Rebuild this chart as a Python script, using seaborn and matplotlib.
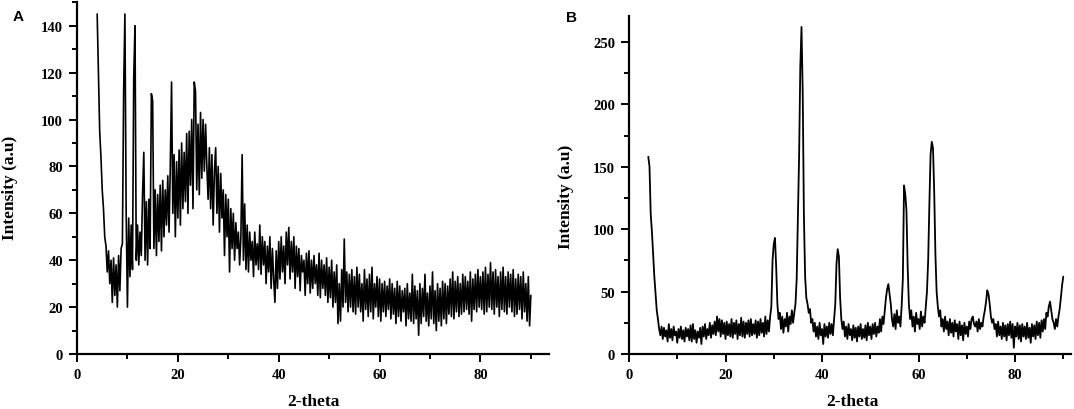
import numpy as np
import matplotlib
matplotlib.use("Agg")
import matplotlib.pyplot as plt
from matplotlib.ticker import MultipleLocator
import seaborn as sns

# ---------------- data (0.25 deg steps) ----------------
theta_start = 4.0
theta_step = 0.25

intensity_a = [
    145, 119, 95, 84,   70, 62, 50, 46,   35, 44, 30, 40,   22, 41, 25, 38,   # 4-7
    20, 42, 27, 45,     47, 112, 145, 60, 20, 58, 33, 55,   36, 118, 140, 40,  # 8-11
    55, 38, 52, 42,     68, 86, 40, 65,   38, 66, 45, 111,  108, 45, 70, 42,   # 12-15
    68, 48, 72, 44,     74, 50, 70, 55,   76, 52, 80, 116,  60, 85, 50, 82,    # 16-19
    58, 87, 55, 90,     62, 86, 65, 94,   60, 95, 72, 100,  62, 116, 112, 70,  # 20-23
    98, 68, 103, 75,    100, 78, 98, 80,  66, 88, 62, 85,   55, 78, 88, 60,    # 24-27
    80, 52, 77, 58,     70, 42, 68, 50,   66, 35, 62, 45,   60, 40, 56, 45,    # 28-31
    52, 38, 50, 85,     40, 64, 36, 55,   35, 52, 40, 48,   33, 52, 38, 47,    # 32-35
    36, 55, 34, 50,     38, 48, 30, 46,   35, 50, 28, 45,   32, 22, 44, 28,    # 36-39
    48, 32, 50, 35,     46, 30, 52, 38,   54, 32, 48, 35,   50, 28, 46, 33,    # 40-43
    45, 27, 42, 35,     40, 25, 43, 30,   44, 26, 40, 28,   42, 30, 38, 25,    # 44-47
    43, 24, 40, 28,     38, 25, 41, 22,   37, 24, 40, 20,   35, 22, 38, 13,    # 48-51
    30, 14, 36, 20,     49, 22, 35, 18,   34, 20, 36, 18,   33, 17, 37, 20,    # 52-55
    34, 18, 30, 14,     36, 19, 32, 16,   34, 18, 37, 15,   30, 20, 33, 16,    # 56-59
    32, 14, 30, 18,     31, 16, 29, 19,   32, 15, 30, 17,   28, 13, 31, 16,    # 60-63
    29, 14, 27, 18,     28, 12, 30, 15,   26, 14, 34, 13,   29, 15, 27, 8,     # 64-67
    30, 13, 28, 16,     34, 14, 26, 12,   29, 15, 35, 13,   27, 10, 30, 14,    # 68-71
    28, 12, 31, 15,     30, 13, 29, 17,   32, 16, 35, 15,   31, 18, 33, 16,    # 72-75
    30, 17, 34, 18,     33, 19, 31, 17,   35, 14, 32, 19,   34, 18, 36, 20,    # 76-79
    33, 19, 35, 17,     37, 18, 34, 20,   39, 19, 35, 17,   36, 20, 33, 16,    # 80-83
    35, 19, 37, 18,     33, 17, 35, 20,   34, 18, 36, 16,   32, 17, 34, 19,    # 84-87
    33, 15, 35, 18,     30, 14, 33, 12,   25,                                   # 88-90
]

intensity_b = [
    158, 150, 112, 98,  80, 62, 48, 35,   28, 20, 15, 22,   12, 21, 14, 19,    # 4-7
    10, 24, 13, 20,     11, 22, 15, 18,   9, 20, 13, 22,    12, 19, 10, 21,    # 8-11
    14, 20, 11, 23,     10, 24, 12, 19,   9, 18, 13, 21,    8, 22, 14, 24,     # 12-15
    12, 20, 15, 25,     13, 23, 16, 26,   15, 30, 18, 28,   14, 27, 16, 25,    # 16-19
    12, 26, 15, 24,     14, 28, 13, 25,   16, 27, 12, 24,   15, 29, 14, 26,    # 20-23
    13, 25, 16, 27,     14, 28, 15, 24,   16, 27, 13, 26,   15, 28, 17, 25,    # 24-27
    14, 30, 16, 27,     18, 30, 38, 75,   88, 93, 70, 40,   28, 33, 20, 30,    # 28-31
    17, 28, 22, 33,     18, 30, 24, 35,   25, 33, 40, 60,   110, 158, 230, 262,  # 32-35
    210, 110, 62, 45,   40, 33, 36, 25,   28, 18, 25, 14,   22, 12, 25, 15,    # 36-39
    20, 8, 24, 14,      22, 13, 25, 16,   24, 15, 28, 40,   72, 84, 78, 45,    # 40-43
    28, 20, 26, 14,     22, 12, 24, 15,   20, 11, 23, 13,   21, 10, 22, 14,    # 44-47
    24, 12, 20, 13,     23, 11, 25, 15,   22, 12, 24, 16,   25, 14, 22, 17,    # 48-51
    28, 18, 30, 24,     35, 45, 52, 56,   48, 40, 28, 22,   32, 20, 35, 25,    # 52-55
    30, 22, 38, 60,     135, 128, 115, 70, 40, 28, 35, 22,  30, 18, 33, 24,    # 56-59
    28, 20, 34, 22,     30, 25, 38, 50,   75, 120, 160, 170, 165, 130, 80, 50,  # 60-63
    38, 30, 35, 22,     28, 18, 30, 20,   26, 15, 28, 17,   25, 14, 27, 18,    # 64-67
    24, 12, 26, 15,     23, 11, 25, 16,   22, 14, 26, 20,   28, 30, 24, 22,    # 68-71
    26, 18, 28, 20,     25, 22, 30, 35,   42, 51, 48, 40,   30, 25, 28, 20,    # 72-75
    24, 14, 26, 15,     22, 12, 25, 14,   23, 11, 24, 15,   26, 13, 24, 5,     # 76-79
    22, 14, 25, 12,     23, 10, 24, 14,   22, 12, 25, 13,   21, 9, 24, 14,     # 80-83
    23, 12, 26, 15,     25, 13, 27, 18,   28, 20, 33, 30,   38, 42, 35, 28,    # 84-87
    25, 20, 28, 22,     30, 36, 45, 55,   62,                                   # 88-90
]

theta_a = theta_start + theta_step * np.arange(len(intensity_a))
theta_b = theta_start + theta_step * np.arange(len(intensity_b))

xticks = [0, 20, 40, 60, 80]
yticks_a = [0, 20, 40, 60, 80, 100, 120, 140]
yticks_b = [0, 50, 100, 150, 200, 250]
panel_labels = ["A", "B"]
x_label = "2-theta"
y_label = "Intensity (a.u)"

# ---------------- style ----------------
sns.set_style("ticks")
plt.rcParams["font.family"] = ["Liberation Serif", "DejaVu Serif"]
plt.rcParams["font.weight"] = "bold"
for key in ("text.color", "axes.labelcolor", "xtick.color", "ytick.color",
            "axes.edgecolor"):
    plt.rcParams[key] = "black"

W, H = 1074, 410
fig = plt.figure(figsize=(W / 100, H / 100), dpi=100)

def px_rect(l, t, r, b):
    return [l / W, 1 - b / H, (r - l) / W, (b - t) / H]

axA = fig.add_axes(px_rect(77, 3.3, 549, 355))
axB = fig.add_axes(px_rect(629, 16.7, 1071, 355))

sns.lineplot(x=theta_a, y=intensity_a, ax=axA, color="black",
             linewidth=1.2, estimator=None, sort=False)
sns.lineplot(x=theta_b, y=intensity_b, ax=axB, color="black",
             linewidth=1.3, estimator=None, sort=False)

axA.set_xlim(0, 93.6)
axA.set_ylim(0, 150)
axB.set_xlim(0, 91.6)
axB.set_ylim(0, 271)

axA.set_yticks(yticks_a)
axB.set_yticks(yticks_b)
axA.yaxis.set_minor_locator(MultipleLocator(10))
axB.yaxis.set_minor_locator(MultipleLocator(25))

for ax in (axA, axB):
    ax.set_xticks(xticks)
    ax.xaxis.set_minor_locator(MultipleLocator(10))
    sns.despine(ax=ax)
    for s in ("left", "bottom"):
        ax.spines[s].set_linewidth(1.6)
        ax.spines[s].set_color("black")
    ax.tick_params(which="major", direction="out", length=6, width=1.4,
                   labelsize=10.5, pad=4, colors="black", labelcolor="black")
    ax.tick_params(which="minor", direction="out", length=3.5, width=1.4,
                   colors="black")
    for lab in ax.get_xticklabels() + ax.get_yticklabels():
        lab.set_fontweight("bold")
        lab.set_color("black")
    ax.set_xlabel("")
    ax.set_ylabel("")

# axis titles
fig.text(9.7 / W, 1 - 188 / H, y_label, rotation=90, ha="center", va="center",
         fontsize=12.5, fontweight="bold", color="black")
fig.text(566.5 / W, 1 - 197 / H, y_label, rotation=90, ha="center", va="center",
         fontsize=12.5, fontweight="bold", color="black")
fig.text(313 / W, 1 - 402 / H, x_label, ha="center", va="center",
         fontsize=12.5, fontweight="bold", color="black")
fig.text(852 / W, 1 - 402 / H, x_label, ha="center", va="center",
         fontsize=12.5, fontweight="bold", color="black")

# panel letters
fig.text(18 / W, 1 - 17 / H, panel_labels[0], ha="center", va="center",
         fontsize=11, fontweight="bold", color="black",
         family=["Liberation Sans", "DejaVu Sans"])
fig.text(571.7 / W, 1 - 17.7 / H, panel_labels[1], ha="center", va="center",
         fontsize=11, fontweight="bold", color="black",
         family=["Liberation Sans", "DejaVu Sans"])

fig.savefig("out.png", dpi=100)
